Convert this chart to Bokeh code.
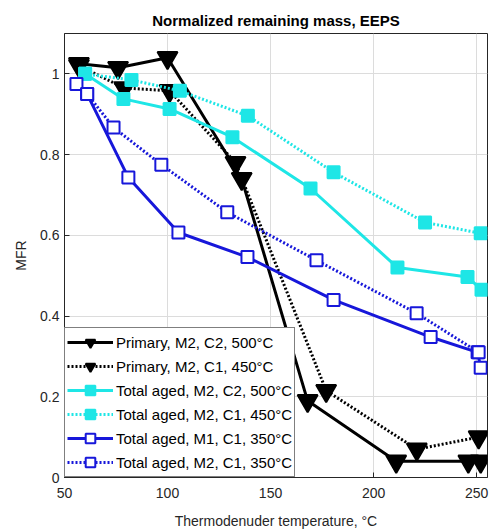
from bokeh.plotting import figure
from bokeh.models import Legend, LegendItem, FixedTicker
from bokeh.embed import file_html
from bokeh.resources import INLINE

# --- data ---
prim_c2_x = [57, 76, 100, 136, 168, 211, 246, 252]
prim_c2_y = [1.025, 1.015, 1.04, 0.74, 0.19, 0.04, 0.04, 0.04]

prim_c1_x = [57, 79, 101, 133, 177, 221, 251]
prim_c1_y = [1.02, 0.965, 0.958, 0.78, 0.215, 0.07, 0.10]

aged_c2_500_x = [60, 78.6, 101, 131.5, 169.4, 211.6, 245.6, 252.4]
aged_c2_500_y = [1.0, 0.938, 0.913, 0.843, 0.716, 0.52, 0.497, 0.465]

aged_c1_450_x = [60, 82.5, 106, 139, 180.6, 225, 252]
aged_c1_450_y = [1.0, 0.985, 0.958, 0.896, 0.756, 0.632, 0.605]

aged_m1_350_x = [55.8, 61, 81, 105.3, 138.8, 180.6, 227.7, 250.5, 252]
aged_m1_350_y = [0.975, 0.95, 0.743, 0.607, 0.546, 0.44, 0.348, 0.31, 0.272]

aged_m2_350_x = [61, 73.8, 97, 129, 172.3, 220.9, 251]
aged_m2_350_y = [0.95, 0.867, 0.775, 0.657, 0.538, 0.407, 0.31]

labels = [
    "Primary, M2, C2, 500°C",
    "Primary, M2, C1, 450°C",
    "Total aged, M2, C2, 500°C",
    "Total aged, M2, C1, 450°C",
    "Total aged, M1, C1, 350°C",
    "Total aged, M2, C1, 350°C",
]
x_ticks = [50, 100, 150, 200, 250]
y_ticks = [0, 0.2, 0.4, 0.6, 0.8, 1.0]

FONT = "Liberation Sans"
BLACK = "#000000"
CYAN = "#1EE6E6"
BLUE = "#1717DA"

p = figure(width=490, height=532, output_backend="svg", toolbar_location=None,
           x_range=(50, 255.3), y_range=(0, 1.1),
           min_border_left=64, min_border_right=3, min_border_top=33, min_border_bottom=55,
           title="Normalized remaining mass, EEPS")
p.title.align = "center"
p.title.text_font = FONT
p.title.text_font_size = "15px"
p.title.text_font_style = "bold"
p.title.text_color = "#000000"

p.outline_line_color = "#262626"
p.outline_line_width = 1
p.xgrid.grid_line_color = "#dcdcdc"
p.ygrid.grid_line_color = "#dcdcdc"

p.xaxis.ticker = FixedTicker(ticks=x_ticks)
p.yaxis.ticker = FixedTicker(ticks=y_ticks)
p.yaxis.major_label_overrides = {0: "0", 0.2: "0.2", 0.4: "0.4", 0.6: "0.6", 0.8: "0.8", 1.0: "1"}
for ax in (p.xaxis[0], p.yaxis[0]):
    ax.major_tick_in = 5
    ax.major_tick_out = 0
    ax.minor_tick_in = 0
    ax.minor_tick_out = 0
    ax.axis_line_color = "#262626"
    ax.major_tick_line_color = "#262626"
    ax.major_label_text_font = FONT
    ax.major_label_text_font_size = "14px"
    ax.major_label_text_color = "#262626"
    ax.axis_label_text_font = FONT
    ax.axis_label_text_font_size = "14px"
    ax.axis_label_text_font_style = "normal"
    ax.axis_label_text_color = "#262626"
p.xaxis.axis_label = "Thermodenuder temperature, °C"
p.yaxis.axis_label = "MFR"
p.xaxis.major_label_standoff = 10
p.xaxis.axis_label_standoff = 12
p.yaxis.axis_label_standoff = 8

series = [
    (prim_c2_x, prim_c2_y, BLACK, None, "inverted_triangle", BLACK, 20),
    (prim_c1_x, prim_c1_y, BLACK, "2 2", "inverted_triangle", BLACK, 20),
    (aged_c2_500_x, aged_c2_500_y, CYAN, None, "square", CYAN, 12),
    (aged_c1_450_x, aged_c1_450_y, CYAN, "2 2", "square", CYAN, 12),
    (aged_m1_350_x, aged_m1_350_y, BLUE, None, "square", "white", 12),
    (aged_m2_350_x, aged_m2_350_y, BLUE, "2 2", "square", "white", 12),
]

items = []
for (xs, ys, col, dash, marker, fill, size), lab in zip(series, labels):
    kw = {}
    if dash:
        kw["line_dash"] = dash
    ln = p.line(xs, ys, line_color=col, line_width=3, **kw)
    sc = p.scatter(xs, ys, marker=marker, size=size, line_color=col, fill_color=fill,
                   line_width=2)
    items.append(LegendItem(label=lab, renderers=[ln, sc]))

legend = Legend(items=items, location=(0, 0))
legend.label_text_font = FONT
legend.label_text_font_size = "15px"
legend.label_text_color = "#000000"
legend.glyph_width = 46
legend.glyph_height = 24
legend.spacing = 0
legend.padding = 2
legend.margin = 0
legend.label_standoff = 3
legend.border_line_color = "#000000"
legend.border_line_width = 1.5
legend.background_fill_color = "white"
legend.background_fill_alpha = 1.0
p.add_layout(legend, "center")

open("out.html", "w").write(file_html(p, INLINE))
